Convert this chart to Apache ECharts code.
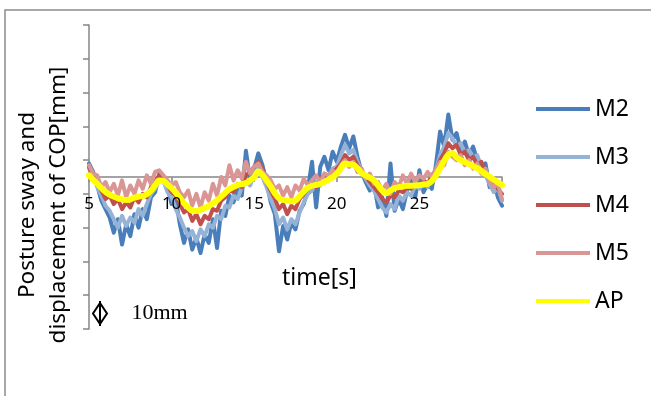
<!DOCTYPE html>
<html><head><meta charset="utf-8">
<script src="https://cdn.jsdelivr.net/npm/echarts@6/dist/echarts.min.js"></script>
<style>html,body{margin:0;padding:0;background:#fff}#c{width:651px;height:396px}</style>
</head><body><div id="c"></div>
<script>
const timeStart = 5;
const timeStep = 0.25;
const xTickLabels = [5, 10, 15, 20, 25];
const seriesNames = ['M2', 'M3', 'M4', 'M5', 'AP'];
const m2 = [4.0,1.5,-2.5,-7.0,-9.5,-12.0,-16.5,-12.5,-20.0,-14.0,
-17.5,-11.0,-15.0,-9.5,-12.5,-6.0,-4.5,1.0,-1.5,-3.0,
-8.0,-6.5,-14.0,-19.5,-15.5,-21.5,-18.0,-22.5,-17.0,-19.5,
-12.5,-21.0,-10.0,-11.5,-5.5,-7.5,-3.0,-5.5,7.8,-1.0,
2.5,7.0,3.5,-1.5,-7.5,-11.0,-22.0,-14.5,-18.5,-13.5,
-15.5,-10.0,-8.0,-3.5,4.5,-9.0,3.0,6.0,2.0,7.5,
4.5,9.0,12.5,8.5,12.0,6.0,1.5,-1.5,-4.0,-2.0,
-9.0,-6.0,-11.5,4.0,-10.0,-6.5,-9.5,-4.0,-1.0,-6.0,
2.0,-4.5,-2.0,-3.5,3.5,13.5,9.0,18.5,11.0,13.0,
8.0,10.5,6.5,9.0,5.0,2.5,4.0,-3.0,-1.0,-6.0,
-8.5];
const m3 = [2.5,0.5,-3.0,-5.5,-8.5,-10.0,-12.5,-15.0,-11.5,-14.5,
-12.0,-13.5,-9.5,-11.5,-8.0,-5.0,-3.5,-0.5,-1.0,-4.5,
-6.0,-9.5,-12.0,-15.0,-17.5,-16.0,-19.0,-15.5,-17.5,-14.0,
-15.0,-11.5,-12.5,-8.5,-9.0,-5.5,-6.5,-3.0,-1.5,-2.5,
0.5,2.5,0.0,-3.0,-6.5,-9.5,-14.0,-12.0,-15.5,-12.5,
-14.0,-10.5,-7.5,-5.0,-4.0,-1.5,-2.5,1.0,0.0,2.5,
3.0,6.5,9.5,7.0,8.0,4.5,2.0,-0.5,-2.5,-4.0,
-6.5,-9.0,-10.5,-8.0,-9.5,-5.5,-7.0,-4.5,-5.5,-2.5,
-3.5,-1.5,-3.0,0.0,2.0,6.5,9.0,13.0,11.5,9.0,
10.0,7.0,8.0,5.5,6.5,3.0,0.5,-2.0,-4.5,-3.0,
-7.0];
const m4 = [3.0,0.0,-2.0,-4.0,-6.5,-5.5,-8.0,-6.5,-9.5,-7.5,
-9.0,-6.0,-7.5,-5.0,-6.0,-3.0,-1.5,0.5,-1.0,-2.5,
-4.5,-5.5,-8.0,-10.5,-9.5,-13.0,-11.0,-14.0,-11.5,-12.5,
-9.5,-10.0,-7.0,-6.0,-4.0,-4.5,-2.0,-3.0,0.5,1.5,
3.0,4.5,2.5,-1.5,-4.0,-6.5,-9.5,-8.0,-11.0,-8.5,
-9.5,-6.5,-5.0,-3.5,-2.0,-3.0,-0.5,0.5,-0.5,1.5,
2.5,4.0,6.5,5.0,6.0,3.5,1.5,0.0,-1.5,-3.0,
-4.5,-6.5,-7.5,-5.5,-6.0,-4.0,-4.5,-3.0,-3.5,-2.0,
-2.5,-1.0,-2.0,0.5,2.0,5.0,7.0,10.0,8.5,9.5,
6.5,7.5,5.0,6.0,3.5,4.5,1.5,-0.5,-1.5,-3.5,
-5.0];
const m5 = [3.5,1.0,0.5,-3.0,-1.5,-4.5,-2.0,-5.5,-1.0,-6.0,
-2.5,-5.0,-1.0,-3.5,0.5,-2.0,1.5,2.0,0.5,-1.0,
-2.5,-1.5,-4.5,-6.0,-4.0,-8.5,-5.0,-9.0,-4.5,-7.0,
-2.0,-5.5,0.0,-2.5,3.5,-1.0,2.0,-0.5,4.5,1.0,
3.0,4.0,1.5,0.5,-1.0,-3.5,-2.5,-5.5,-3.0,-6.0,
-2.5,-4.0,-0.5,-2.5,-1.0,0.5,-1.5,1.0,0.5,2.0,
1.0,3.5,5.0,3.0,4.5,1.5,2.5,-0.5,1.0,-2.0,
-1.5,-4.0,-2.0,-5.0,-1.5,-3.0,0.5,-2.0,1.0,-1.5,
0.5,-0.5,1.5,0.0,2.5,4.5,3.5,7.5,6.0,5.0,
6.5,3.5,5.0,2.5,4.0,1.0,2.5,-1.5,-3.0,-2.0,
-6.5];
const ap = [0.5,-0.8,-2.0,-3.3,-4.4,-5.2,-5.8,-6.3,-6.6,-6.8,
-6.6,-6.1,-5.8,-5.6,-5.1,-4.0,-2.5,-1.0,-1.2,-2.2,
-3.3,-4.6,-6.2,-7.8,-9.0,-10.0,-10.1,-9.7,-9.2,-8.6,
-7.8,-6.9,-5.8,-4.7,-3.6,-2.9,-2.4,-2.1,-1.8,-1.0,
0.0,1.6,0.6,-1.0,-2.8,-4.8,-6.3,-6.8,-7.0,-7.2,
-7.0,-5.6,-4.3,-3.2,-2.6,-2.3,-2.0,-1.4,-0.8,0.0,
1.0,2.6,4.0,3.8,3.6,2.6,1.2,0.4,-0.2,-1.0,
-2.5,-4.0,-4.8,-4.0,-3.3,-3.0,-2.8,-2.6,-2.6,-2.5,
-2.4,-2.2,-2.0,-1.2,0.5,2.6,4.8,6.6,7.0,5.8,
5.0,4.4,3.8,3.2,2.6,1.8,0.9,0.1,-0.8,-1.6,
-2.4];

const values = [m2, m3, m4, m5, ap];
const colors = ['#4A7EBB', '#95B3D7', '#C0504D', '#D99694', '#FFFF00'];
const widths = [4, 4, 4, 4, 6];
const FONT = 'Noto Sans';

function pairs(arr) { return arr.map((v, i) => [timeStart + i * timeStep, v]); }

const xBase = {
  type: 'value', min: 5, max: 30, interval: 5, gridIndex: 0,
  position: 'bottom', offset: -152,
  splitLine: { show: false }
};

const chart = echarts.init(document.getElementById('c'), null, { renderer: 'canvas' });
chart.setOption({
  animation: false,
  backgroundColor: '#fff',
  grid: { left: 89, right: 149, top: 25, bottom: 67, containLabel: false },
  xAxis: [
    Object.assign({}, xBase, {
      z: 0,
      axisLine: { onZero: false, lineStyle: { color: '#868686', width: 1.5 } },
      axisTick: { show: true, length: 5, lineStyle: { color: '#868686', width: 1.5 } },
      axisLabel: { show: false }
    }),
    Object.assign({}, xBase, {
      z: 20,
      axisLine: { show: false, onZero: false },
      axisTick: { show: false },
      axisLabel: {
        margin: 19, color: '#000', fontSize: 17, fontFamily: FONT,
        showMaxLabel: false,
        formatter: v => (xTickLabels.indexOf(v) >= 0 ? String(v) : '')
      }
    })
  ],
  yAxis: {
    type: 'value', min: -45, max: 45, interval: 10,
    axisLine: { show: true, onZero: false, lineStyle: { color: '#868686', width: 1.5 } },
    axisTick: { show: true, length: 6, lineStyle: { color: '#868686', width: 1.5 } },
    axisLabel: { show: false },
    splitLine: { show: false }
  },
  legend: {
    orient: 'vertical', left: 536, top: 97, padding: 0,
    icon: 'rect', itemWidth: 54, itemHeight: 4, itemGap: 24,
    data: seriesNames,
    textStyle: { color: '#000', fontSize: 23, lineHeight: 24, fontFamily: FONT }
  },
  graphic: [
    { type: 'rect', z: -10, shape: { x: 5, y: 10, width: 700, height: 450 },
      style: { fill: 'none', stroke: '#8c8c8c', lineWidth: 1.5 } },
    { type: 'text', x: 28, y: 205, rotation: Math.PI / 2,
      style: { text: 'Posture sway and', fontSize: 22.5, fontFamily: FONT, fill: '#000', align: 'center', verticalAlign: 'middle' } },
    { type: 'text', x: 59, y: 205, rotation: Math.PI / 2,
      style: { text: 'displacement of COP[mm]', fontSize: 22.5, fontFamily: FONT, fill: '#000', align: 'center', verticalAlign: 'middle' } },
    { type: 'text', x: 319.5, y: 278,
      style: { text: 'time[s]', fontSize: 23, fontFamily: FONT, fill: '#000', align: 'center', verticalAlign: 'middle' } },
    { type: 'text', x: 159.5, y: 313,
      style: { text: '10mm', fontSize: 22, fontFamily: 'Liberation Serif', fill: '#000', align: 'center', verticalAlign: 'middle' } },
    { type: 'polygon', shape: { points: [[100, 303], [107, 313.5], [100, 324], [93, 313.5]] },
      style: { fill: 'none', stroke: '#000', lineWidth: 2 } },
    { type: 'line', shape: { x1: 100, y1: 301, x2: 100, y2: 326 },
      style: { stroke: '#000', lineWidth: 2 } }
  ],
  series: seriesNames.map((name, k) => ({
    name: name,
    type: 'line',
    xAxisIndex: 0,
    symbol: 'none',
    smooth: k === 4 ? 0.4 : false,
    data: pairs(values[k]),
    lineStyle: { color: colors[k], width: widths[k], cap: 'round', join: 'round' },
    itemStyle: { color: colors[k] },
    z: 2 + k
  }))
});
</script></body></html>
